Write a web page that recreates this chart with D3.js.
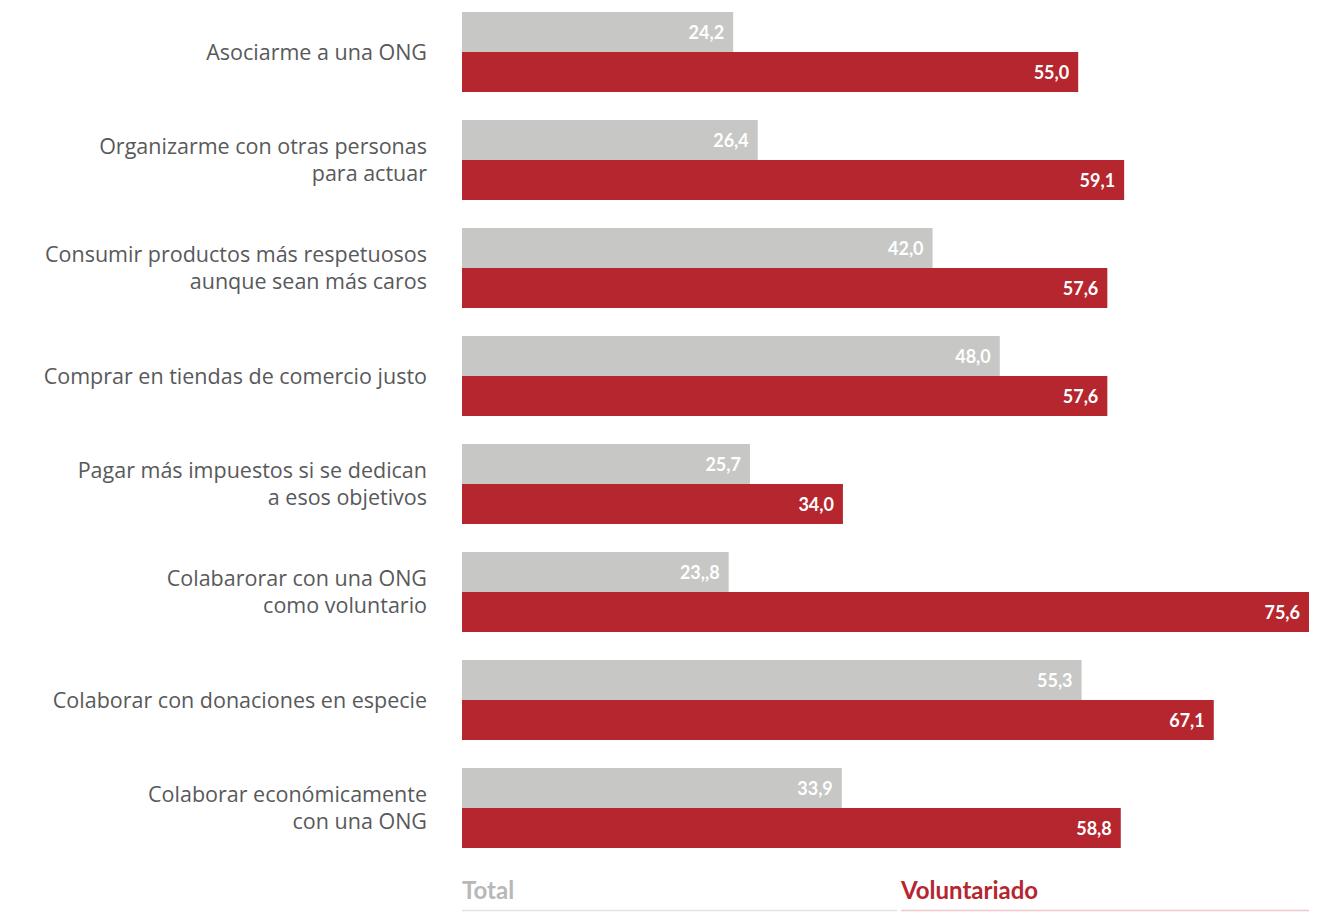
<!DOCTYPE html>
<html><head><meta charset="utf-8">
<script src="https://cdn.jsdelivr.net/npm/d3@7"></script>
<style>body{margin:0;background:#fff;} svg{display:block;}</style>
</head><body>
<svg id="c" width="1319" height="912"></svg>
<script>
const categories = [
  ["Asociarme a una ONG"],
  ["Organizarme con otras personas","para actuar"],
  ["Consumir productos más respetuosos","aunque sean más caros"],
  ["Comprar en tiendas de comercio justo"],
  ["Pagar más impuestos si se dedican","a esos objetivos"],
  ["Colabarorar con una ONG","como voluntario"],
  ["Colaborar con donaciones en especie"],
  ["Colaborar económicamente","con una ONG"]
];
const totalValues = [24.2, 26.4, 42.0, 48.0, 25.7, 23.8, 55.3, 33.9];
const volValues   = [55.0, 59.1, 57.6, 57.6, 34.0, 75.6, 67.1, 58.8];
const totalLabels = ["24,2","26,4","42,0","48,0","25,7","23,,8","55,3","33,9"];
const volLabels   = ["55,0","59,1","57,6","57,6","34,0","75,6","67,1","58,8"];
const seriesNames = ["Total","Voluntariado"];

const svg = d3.select("#c");
const font = "Lato, 'Open Sans', sans-serif";
const labelFont = "'Open Sans', Lato, sans-serif";
const gray = "#c7c7c5", red = "#b5262f";

const x = d3.scaleLinear().domain([0, 75.6]).range([462, 1309]);
const y = d3.scaleBand().domain(d3.range(categories.length)).range([12, 848]).paddingInner(28/108).paddingOuter(0);
const bh = y.bandwidth() / 2;

const g = svg.selectAll("g.grp").data(categories).join("g").attr("class","grp");

g.append("rect").attr("x", x(0)).attr("y", (d,i)=>y(i))
  .attr("width", (d,i)=>x(totalValues[i])-x(0)).attr("height", bh).attr("fill", gray);
g.append("rect").attr("x", x(0)).attr("y", (d,i)=>y(i)+bh)
  .attr("width", (d,i)=>x(volValues[i])-x(0)).attr("height", bh).attr("fill", red);

g.append("text").attr("x",(d,i)=>x(totalValues[i])-9).attr("y",(d,i)=>y(i)+bh/2)
  .attr("dy","0.38em").attr("text-anchor","end").attr("fill","#fff")
  .attr("font-family",font).attr("font-weight","bold").attr("font-size",18)
  .text((d,i)=>totalLabels[i]);
g.append("text").attr("x",(d,i)=>x(volValues[i])-9).attr("y",(d,i)=>y(i)+bh*1.5)
  .attr("dy","0.38em").attr("text-anchor","end").attr("fill","#fff")
  .attr("font-family",font).attr("font-weight","bold").attr("font-size",18)
  .text((d,i)=>volLabels[i]);

g.each(function(lines,i){
  const t = d3.select(this).append("text").attr("text-anchor","end")
    .attr("font-family",labelFont).attr("font-size",21.5).attr("fill","#58595b");
  const lh = 27;
  const c = y(i)+bh;
  lines.forEach((l,k)=>{
    t.append("tspan").attr("x",427).attr("y", c + (k-(lines.length-1)/2)*lh).attr("dy","0.35em").text(l);
  });
});

// legend
const legend = [{x0:462,x1:897,color:"#b8b8b8",line:"#e2e2e2"},{x0:901,x1:1309,color:red,line:"#f0c8cb"}];
legend.forEach((l,i)=>{
  svg.append("text").attr("x",l.x0).attr("y",899).attr("font-family",font).attr("font-weight","bold")
    .attr("font-size",24).attr("fill",l.color).text(seriesNames[i]);
  svg.append("line").attr("x1",l.x0).attr("x2",l.x1).attr("y1",910.5).attr("y2",910.5)
    .attr("stroke",l.line).attr("stroke-width",1.5);
});
</script>
</body></html>
